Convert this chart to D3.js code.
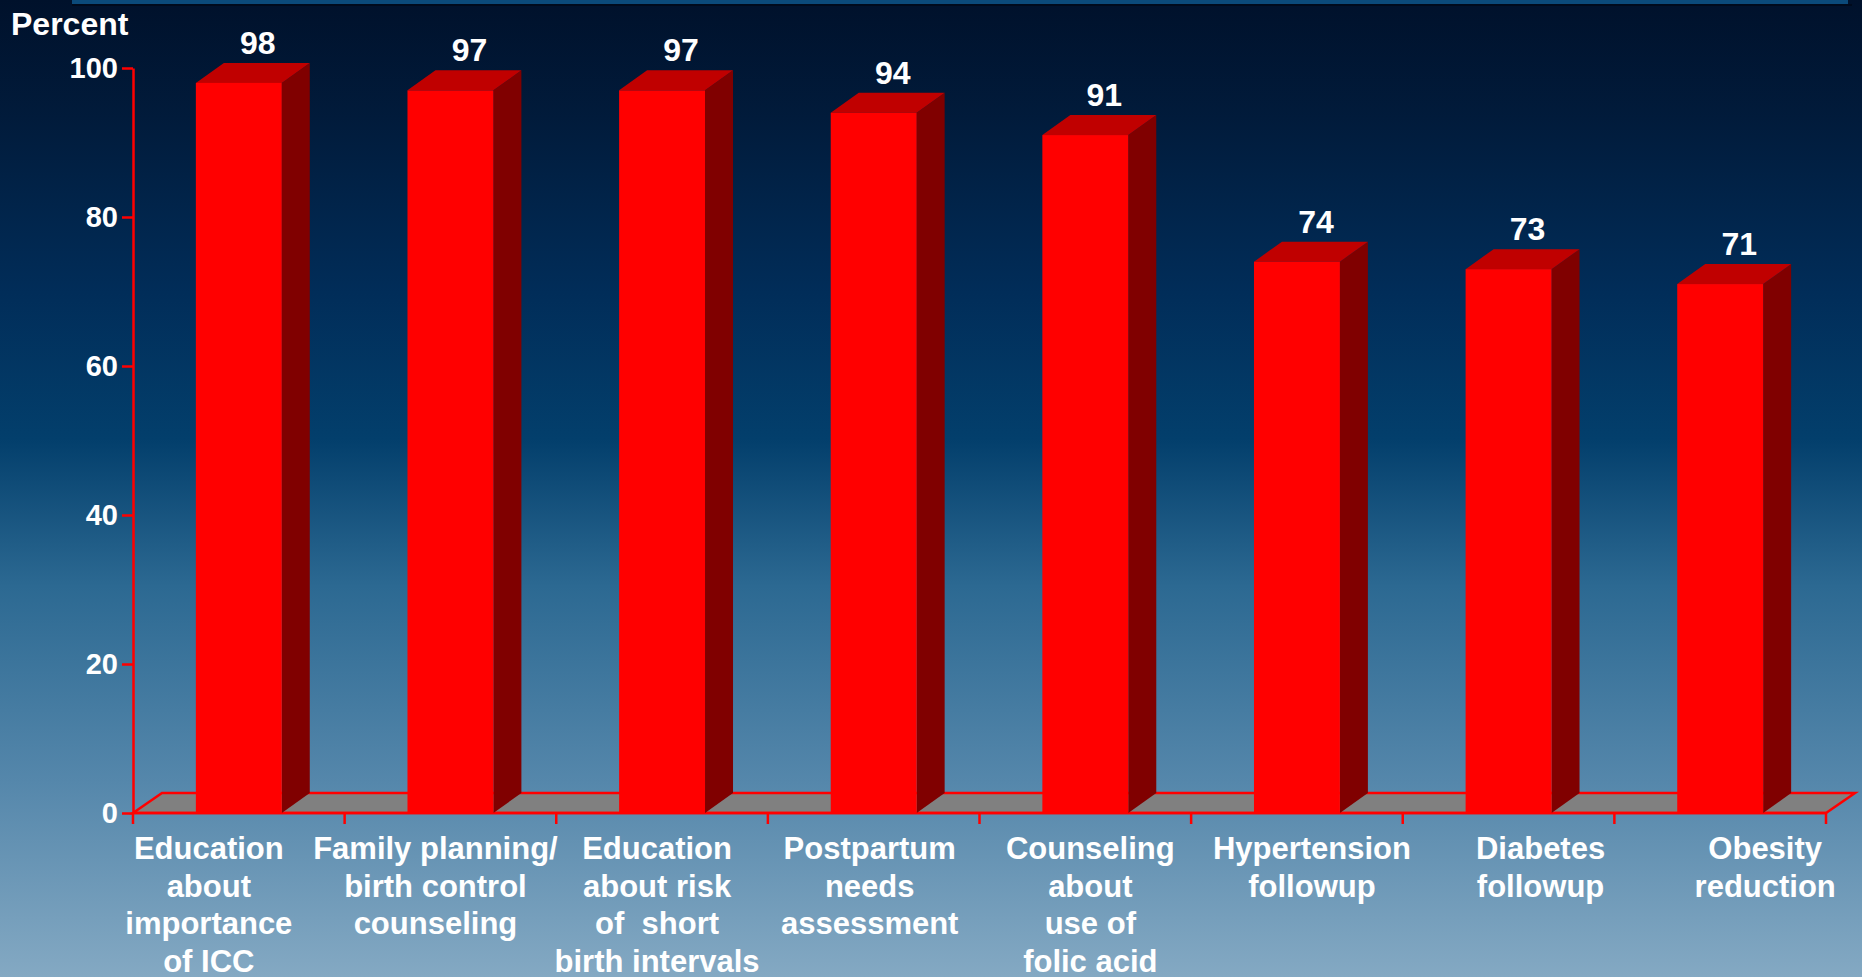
<!DOCTYPE html>
<html>
<head>
<meta charset="utf-8">
<script src="https://cdn.jsdelivr.net/npm/d3@7"></script>
<style>
  html, body { margin: 0; padding: 0; overflow: hidden; background: #001028; }
  svg { display: block; }
  text { font-family: "Liberation Sans", Arial, sans-serif; font-weight: bold; fill: #ffffff; }
</style>
</head>
<body>
<script>
// ---- data ----
const categories = [
  "Education about importance of ICC",
  "Family planning/ birth control counseling",
  "Education about risk of short birth intervals",
  "Postpartum needs assessment",
  "Counseling about use of folic acid",
  "Hypertension followup",
  "Diabetes followup",
  "Obesity reduction"
];
const categoryLines = [
  ["Education", "about", "importance", "of ICC"],
  ["Family planning/", "birth control", "counseling"],
  ["Education", "about risk", "of  short", "birth intervals"],
  ["Postpartum", "needs", "assessment"],
  ["Counseling", "about", "use of", "folic acid"],
  ["Hypertension", "followup"],
  ["Diabetes", "followup"],
  ["Obesity", "reduction"]
];
const values = [98, 97, 97, 94, 91, 74, 73, 71];
const yTicks = [0, 20, 40, 60, 80, 100];
const yAxisTitle = "Percent";

// ---- layout ----
const W = 1862, H = 977;
const plotLeft = 133, plotRight = 1826, plotTop = 68, plotBottom = 813;
const DX = 28, DY = -20;
const labelNudge = [-30, -15, -5, -4, 5, 15, 32, 45];

const svg = d3.select("body").append("svg")
  .attr("width", W).attr("height", H);

const defs = svg.append("defs");
const grad = defs.append("linearGradient").attr("id", "bg")
  .attr("x1", 0).attr("y1", 0).attr("x2", 0).attr("y2", 1);
[[0, "#00112b"], [0.12, "#011b3b"], [0.3, "#012d59"], [0.45, "#033f6c"],
 [0.6, "#2c6992"], [0.8, "#5587ab"], [1, "#84a9c3"]].forEach(([o, c]) =>
  grad.append("stop").attr("offset", o).attr("stop-color", c));

svg.append("rect").attr("width", W).attr("height", H).attr("fill", "url(#bg)");
// thin band at top edge
svg.append("rect").attr("x", 72).attr("y", 0).attr("width", 1776).attr("height", 4)
  .attr("fill", "#0b4a7a");
svg.append("rect").attr("x", 72).attr("y", 4).attr("width", 1780).attr("height", 2)
  .attr("fill", "#000a1c");

// ---- scales ----
const x = d3.scaleBand().domain(categories).range([plotLeft, plotRight]).padding(0);
const y = d3.scaleLinear().domain([0, 100]).range([plotBottom, plotTop]);
const barW = x.bandwidth() * 0.406;

// ---- floor ----
svg.append("polygon")
  .attr("points", [[plotLeft, plotBottom], [plotRight, plotBottom], [plotRight + DX + 1, plotBottom + DY], [plotLeft + DX + 1, plotBottom + DY]].join(" "))
  .attr("fill", "#808080").attr("stroke", "#ff0000").attr("stroke-width", 2.5)
  .attr("stroke-linejoin", "miter");

// ---- y axis ----
const yAxis = svg.append("g").attr("transform", `translate(${plotLeft},0)`)
  .call(d3.axisLeft(y).tickValues(yTicks).tickSize(11).tickSizeOuter(0).tickPadding(4));
yAxis.select(".domain").attr("stroke", "#ff0000").attr("stroke-width", 2.5);
yAxis.selectAll(".tick line").attr("stroke", "#ff0000").attr("stroke-width", 2.5);
yAxis.selectAll(".tick text").style("font-size", "29px").attr("fill", "#ffffff")
  .style("font-family", '"Liberation Sans", Arial, sans-serif').style("font-weight", "bold");

// ---- x axis ticks ----
const xTickPos = categories.map(c => x(c)).concat([x.range()[1]]);
svg.append("g").selectAll("line").data(xTickPos).join("line")
  .attr("x1", d => d).attr("x2", d => d)
  .attr("y1", plotBottom).attr("y2", plotBottom + 11)
  .attr("stroke", "#ff0000").attr("stroke-width", 2.5);
svg.append("line").attr("x1", plotLeft).attr("x2", plotRight).attr("y1", plotBottom).attr("y2", plotBottom)
  .attr("stroke", "#ff0000").attr("stroke-width", 2.5);

// ---- bars ----
const bars = svg.append("g").selectAll("g").data(values).join("g");
bars.each(function (v, i) {
  const g = d3.select(this);
  const x0 = x(categories[i]) + (x.bandwidth() - barW) / 2;
  const x1 = x0 + barW;
  const yt = y(v), yb = y(0);
  g.append("polygon")
    .attr("points", [[x1, yt], [x1 + DX, yt + DY], [x1 + DX, yb + DY], [x1, yb]].join(" "))
    .attr("fill", "#800000");
  g.append("polygon")
    .attr("points", [[x0, yt], [x0 + DX, yt + DY], [x1 + DX, yt + DY], [x1, yt]].join(" "))
    .attr("fill", "#c00000");
  g.append("rect").attr("x", x0).attr("y", yt).attr("width", barW).attr("height", yb - yt)
    .attr("fill", "#ff0000");
  g.append("text")
    .attr("x", x0 + barW / 2 + 19).attr("y", yt + DY - 9)
    .attr("text-anchor", "middle").style("font-size", "32px")
    .text(v);
});

// ---- category labels ----
const lab = svg.append("g").selectAll("text").data(categories).join("text")
  .attr("text-anchor", "middle").style("font-size", "31px")
  .attr("transform", (d, i) => `translate(${x(d) + x.bandwidth() / 2 + labelNudge[i]},859)`);
lab.each(function (d, i) {
  d3.select(this).selectAll("tspan").data(categoryLines[i]).join("tspan")
    .attr("x", 0).attr("y", (s, j) => j * 37.5)
    .style("white-space", "pre")
    .text(s => s);
});

// ---- axis title ----
svg.append("text").attr("x", 11).attr("y", 35).style("font-size", "32px").text(yAxisTitle);
</script>
</body>
</html>
